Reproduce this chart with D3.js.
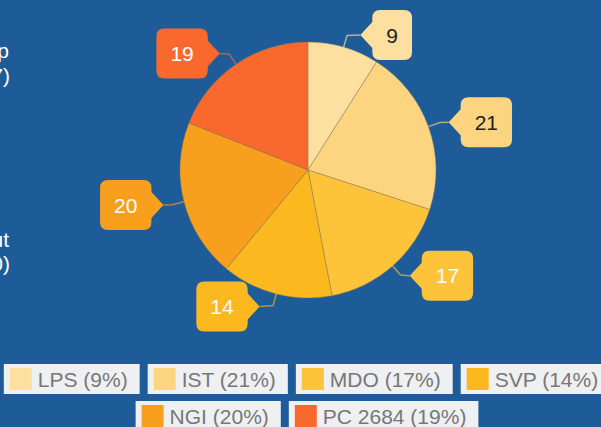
<!DOCTYPE html>
<html>
<head>
<meta charset="utf-8">
<script src="https://cdn.jsdelivr.net/npm/d3@7"></script>
<style>
  html, body { margin: 0; padding: 0; background: #1e5b99; overflow: hidden; }
  svg { display: block; font-family: "Liberation Sans", Arial, sans-serif; }
</style>
</head>
<body>
<svg id="piechart" width="601" height="427"></svg>
<script>
// data
var categories = ["LPS", "IST", "MDO", "SVP", "NGI", "PC 2684"];
var values = [9, 21, 17, 14, 20, 19];
var sliceColors = ["#fddf9f", "#fdd580", "#fcc33b", "#fbb81f", "#f8a01e", "#f9682d"];
// clipped text of the neighbouring chart at the left edge
var edgeLines = ["Workshop", "(n=37)", "Throughput", "(n=40)"];

var svg = d3.select("#piechart"),
    width = +svg.attr("width"),
    height = +svg.attr("height");

var cx = 308, cy = 170, radius = 128;
// area the callouts are kept inside (top / bottom)
var plotTop = 10, plotBottom = 333;

var color = d3.scaleOrdinal().domain(categories).range(sliceColors);

var data = categories.map(function(c, i) { return {name: c, value: values[i]}; });
var total = d3.sum(values);

var pie = d3.pie().sort(null).value(function(d) { return d.value; });
var arc = d3.arc().innerRadius(0).outerRadius(radius);
var arcs = pie(data);

// left edge fragments
svg.append("g")
  .selectAll("text")
  .data(edgeLines)
  .enter().append("text")
    .attr("x", function(d, i) { return i % 2 ? 10 : 9; })
    .attr("y", function(d, i) { return [58, 83, 247, 271][i]; })
    .attr("text-anchor", "end")
    .attr("fill", "#ffffff")
    .style("font-size", "21px")
    .text(function(d) { return d; });

var g = svg.append("g").attr("transform", "translate(" + cx + "," + cy + ")");

// slices
g.selectAll("path.slice")
  .data(arcs)
  .enter().append("path")
    .attr("class", "slice")
    .attr("d", arc)
    .attr("fill", function(d) { return color(d.data.name); })
    .attr("stroke", "rgba(140,120,80,0.4)")
    .attr("stroke-width", 1);

function polar(a, r) { return [r * Math.sin(a), -r * Math.cos(a)]; }

// callout labels
var labelFont = 21, labelRy = 141, labelRx = 149, bh = 50;
arcs.forEach(function(d) {
  var mid = (d.startAngle + d.endAngle) / 2;
  var right = Math.sin(mid) >= 0;
  var dir = right ? 1 : -1;
  var edge = polar(mid, radius);
  var brk = polar(mid, radius + 12);
  // y from the angle, kept inside the plot area
  var ty = -labelRy * Math.cos(mid);
  ty = Math.max(plotTop - cy + bh / 2, Math.min(plotBottom - cy - bh / 2, ty));
  // x between the radial point and the point on the circle at that y
  var onCircle = dir * Math.sqrt(Math.max(0, labelRx * labelRx - ty * ty));
  var tx = (onCircle + labelRx * Math.sin(mid)) / 2;
  var tip = [tx, ty];

  var c = color(d.data.name);

  g.append("path")
    .attr("d", d3.line()([edge, brk, tip]))
    .attr("fill", "none")
    .attr("stroke", c)
    .attr("stroke-opacity", 0.65)
    .attr("stroke-width", 1.5);

  var lab = g.append("g");
  var txt = lab.append("text")
    .attr("text-anchor", "middle")
    .style("font-size", labelFont + "px")
    .attr("fill", d3.hsl(c).l > 0.7 ? "#222222" : "#ffffff")
    .text(d.data.value);
  var tw = txt.node().getComputedTextLength();

  var bw = tw + 28, notch = 12, half = 13, rr = 8;
  var x0 = tip[0] + dir * notch;           // side with the notch
  var x1 = x0 + dir * bw;                  // far side
  var top = tip[1] - bh / 2, bot = tip[1] + bh / 2;

  var p = d3.path();
  p.moveTo(tip[0], tip[1]);
  p.lineTo(x0, tip[1] - half);
  p.lineTo(x0, top + rr);
  p.quadraticCurveTo(x0, top, x0 + dir * rr, top);
  p.lineTo(x1 - dir * rr, top);
  p.quadraticCurveTo(x1, top, x1, top + rr);
  p.lineTo(x1, bot - rr);
  p.quadraticCurveTo(x1, bot, x1 - dir * rr, bot);
  p.lineTo(x0 + dir * rr, bot);
  p.quadraticCurveTo(x0, bot, x0, bot - rr);
  p.lineTo(x0, tip[1] + half);
  p.closePath();

  lab.insert("path", "text")
    .attr("d", p.toString())
    .attr("fill", c);

  txt.attr("x", (x0 + x1) / 2).attr("y", tip[1] + 7.5);
});

// legend
var legendFont = 21;
var rows = [categories.slice(0, 4), categories.slice(4)];
var rowTops = [364, 401];
var legend = svg.append("g");

rows.forEach(function(row, ri) {
  var rg = legend.append("g");
  var x = 0;
  row.forEach(function(name) {
    var v = values[categories.indexOf(name)];
    var item = rg.append("g").attr("transform", "translate(" + x + "," + rowTops[ri] + ")");
    var bg = item.append("rect")
      .attr("height", 30)
      .attr("fill", "#eef0f2");
    item.append("rect")
      .attr("x", 6).attr("y", 4)
      .attr("width", 22).attr("height", 22)
      .attr("fill", color(name));
    var t = item.append("text")
      .attr("x", 34).attr("y", 23)
      .attr("fill", "#777777")
      .style("font-size", legendFont + "px")
      .text(name + " (" + d3.format(".0%")(v / total) + ")");
    var w = 34 + t.node().getComputedTextLength() + 12;
    bg.attr("width", w);
    x += w + 8;
  });
  var rowW = x - 8;
  rg.attr("transform", "translate(" + (307 - rowW / 2) + ",0)");
});
</script>
</body>
</html>
